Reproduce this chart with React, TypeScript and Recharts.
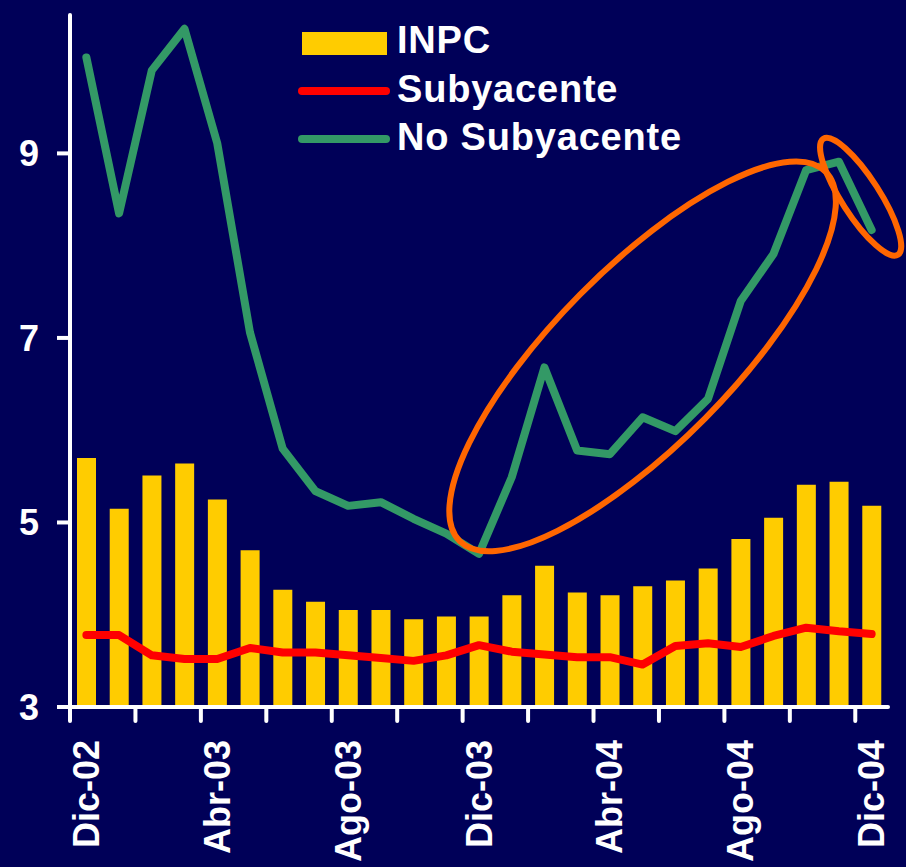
import React from "react";
import {
  ComposedChart,
  Bar,
  Line,
  XAxis,
  YAxis,
  ReferenceDot,
  Legend,
} from "recharts";

const months = [
  "Dic-02", "Ene-03", "Feb-03", "Mar-03", "Abr-03", "May-03", "Jun-03", "Jul-03",
  "Ago-03", "Sep-03", "Oct-03", "Nov-03", "Dic-03", "Ene-04", "Feb-04", "Mar-04",
  "Abr-04", "May-04", "Jun-04", "Jul-04", "Ago-04", "Sep-04", "Oct-04", "Nov-04", "Dic-04",
];
const inpc = [
  5.70, 5.15, 5.51, 5.64, 5.25, 4.70, 4.27, 4.14, 4.05, 4.05, 3.95, 3.98, 3.98,
  4.21, 4.53, 4.24, 4.21, 4.31, 4.37, 4.50, 4.82, 5.05, 5.41, 5.44, 5.18,
];
const subyacente = [
  3.78, 3.78, 3.56, 3.52, 3.52, 3.64, 3.59, 3.59, 3.56, 3.53, 3.50, 3.56, 3.67,
  3.60, 3.57, 3.54, 3.54, 3.46, 3.66, 3.69, 3.65, 3.77, 3.86, 3.82, 3.79,
];
const noSubyacente = [
  10.04, 8.35, 9.90, 10.35, 9.11, 7.06, 5.80, 5.34, 5.18, 5.22, 5.04, 4.88, 4.66,
  5.49, 6.68, 5.78, 5.74, 6.14, 5.99, 6.34, 7.40, 7.91, 8.82, 8.91, 8.17,
];
const tickLabels = ["Dic-02", "Abr-03", "Ago-03", "Dic-03", "Abr-04", "Ago-04", "Dic-04"];
const yTicks = [3, 5, 7, 9];
const seriesNames = ["INPC", "Subyacente", "No Subyacente"];

// annotation anchors (category, value)
const bigEllipseAnchor = { x: "May-04", y: 6.8 };
const smallEllipseAnchor = { x: "Dic-04", y: 8.53 };

const data = months.map((m, i) => ({
  month: m,
  inpc: inpc[i],
  sub: subyacente[i],
  noSub: noSubyacente[i],
}));

const BG = "#000058";
const YELLOW = "#FFCC00";
const RED = "#FF0000";
const GREEN = "#339966";
const ORANGE = "#FF6600";
const FONT = '"Liberation Sans", Arial, Helvetica, sans-serif';

const W = 906;
const H = 867;
const MARGIN = { top: 15, right: 18, bottom: 0, left: 0 };
const Y_AXIS_W = 70;
const BAND = (W - MARGIN.left - MARGIN.right - Y_AXIS_W) / months.length;

const XTick = (props: any) => {
  const { x, y, payload } = props;
  const idx = months.indexOf(payload.value);
  const tx = x - BAND / 2;
  return (
    <g>
      {idx % 2 === 0 && (
        <line x1={tx} y1={y} x2={tx} y2={y + 14} stroke="#fff" strokeWidth={4} strokeLinecap="round" />
      )}
      {tickLabels.includes(payload.value) && (
        <text
          x={x}
          y={y + 33}
          transform={`rotate(-90, ${x}, ${y + 33})`}
          textAnchor="end"
          dy="0.35em"
          fill="#fff"
          fontSize={36}
          fontWeight="bold"
          fontFamily={FONT}
        >
          {payload.value}
        </text>
      )}
    </g>
  );
};

const BigEllipse = (props: any) => {
  const { cx, cy } = props;
  return (
    <ellipse
      cx={cx}
      cy={cy}
      rx={260}
      ry={88}
      transform={`rotate(-45.3, ${cx}, ${cy})`}
      fill="none"
      stroke={ORANGE}
      strokeWidth={6}
    />
  );
};

const SmallEllipse = (props: any) => {
  const { cx, cy } = props;
  const c = cx - 11;
  return (
    <ellipse
      cx={c}
      cy={cy}
      rx={69}
      ry={19}
      transform={`rotate(57.3, ${c}, ${cy})`}
      fill="none"
      stroke={ORANGE}
      strokeWidth={6}
    />
  );
};

const textStyle = {
  fill: "#fff",
  fontSize: 38,
  fontWeight: "bold" as const,
  fontFamily: FONT,
  letterSpacing: "0.8px",
};

const LegendContent = () => (
  <svg width={420} height={150} style={{ display: "block" }}>
    <rect x={6} y={16} width={85} height={23} fill={YELLOW} />
    <text x={101} y={37} style={textStyle}>
      {seriesNames[0]}
    </text>
    <line x1={6} y1={75} x2={90} y2={75} stroke={RED} strokeWidth={8} strokeLinecap="round" />
    <text x={101} y={86} style={textStyle}>
      {seriesNames[1]}
    </text>
    <line x1={6} y1={123} x2={90} y2={123} stroke={GREEN} strokeWidth={8} strokeLinecap="round" />
    <text x={101} y={134} style={textStyle}>
      {seriesNames[2]}
    </text>
  </svg>
);

export default function App() {
  return (
    <div
      style={{
        position: "absolute",
        left: 0,
        top: 0,
        width: W,
        height: H,
        background: BG,
        overflow: "hidden",
      }}
    >
      <ComposedChart width={W} height={H} data={data} margin={MARGIN}>
        <XAxis
          dataKey="month"
          interval={0}
          height={H - 707 - MARGIN.bottom}
          tickSize={0}
          tickMargin={0}
          tickLine={false}
          axisLine={{ stroke: "#fff", strokeWidth: 4, strokeLinecap: "round" }}
          tick={<XTick />}
        />
        <YAxis
          type="number"
          domain={[3, 10.5]}
          ticks={yTicks}
          width={Y_AXIS_W}
          tickSize={13}
          tickMargin={18}
          axisLine={{ stroke: "#fff", strokeWidth: 4, strokeLinecap: "round" }}
          tickLine={{ stroke: "#fff", strokeWidth: 4 }}
          tick={{ fill: "#fff", fontSize: 36, fontWeight: "bold", fontFamily: FONT }}
          allowDataOverflow
        />
        <Legend
          layout="vertical"
          align="center"
          verticalAlign="middle"
          content={<LegendContent />}
          wrapperStyle={{ position: "absolute", left: 296, top: 16, width: 420, height: 150 }}
        />
        <Bar dataKey="inpc" name={seriesNames[0]} fill={YELLOW} barSize={19} isAnimationActive={false} />
        <Line
          type="linear"
          dataKey="sub"
          name={seriesNames[1]}
          stroke={RED}
          strokeWidth={8}
          strokeLinecap="round"
          strokeLinejoin="round"
          dot={false}
          activeDot={false}
          isAnimationActive={false}
        />
        <Line
          type="linear"
          dataKey="noSub"
          name={seriesNames[2]}
          stroke={GREEN}
          strokeWidth={8}
          strokeLinecap="round"
          strokeLinejoin="round"
          dot={false}
          activeDot={false}
          isAnimationActive={false}
        />
        <ReferenceDot x={bigEllipseAnchor.x} y={bigEllipseAnchor.y} ifOverflow="visible" shape={BigEllipse} />
        <ReferenceDot x={smallEllipseAnchor.x} y={smallEllipseAnchor.y} ifOverflow="visible" shape={SmallEllipse} />
      </ComposedChart>
    </div>
  );
}
